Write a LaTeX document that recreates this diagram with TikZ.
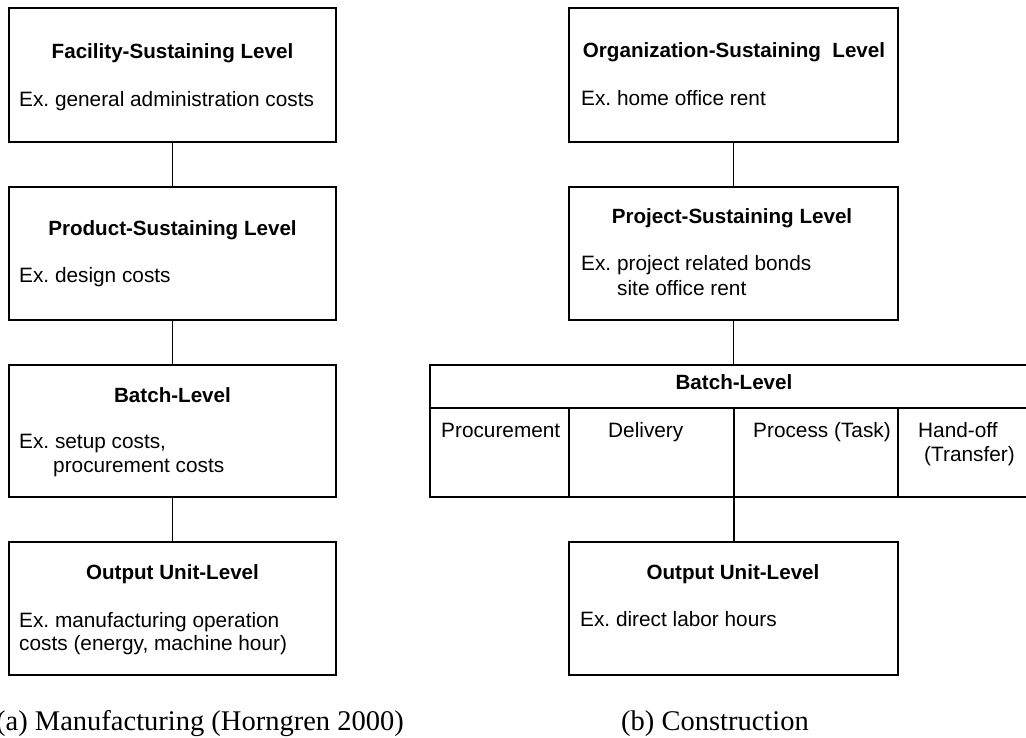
\documentclass[tikz,border=0pt]{standalone}
\usepackage{fontspec}
\setmainfont{Liberation Sans}
\newfontfamily\capfont{Liberation Serif}
\frenchspacing
\begin{document}
\begin{tikzpicture}[x=1pt,y=-1pt,
  box/.style={draw, line width=1.5pt, rectangle, inner sep=0pt, outer sep=0pt},
  conn/.style={line width=1.5pt},
  ttl/.style={font=\fontsize{20.6}{24}\selectfont\bfseries, anchor=base, inner sep=0pt},
  txt/.style={font=\fontsize{20.8}{24}\selectfont, anchor=base west, inner sep=0pt},
  captext/.style={font=\capfont\fontsize{28.5}{32}\selectfont, anchor=base, inner sep=0pt}]
\useasboundingbox (0,0) rectangle (1026,738);

% ---------- (a) Manufacturing ----------
\node[box, minimum width=327pt, minimum height=134pt] (a1) at (172.5,75) {};
\node[box, minimum width=327pt, minimum height=133pt] (a2) at (172.5,253.5) {};
\node[box, minimum width=327pt, minimum height=132pt] (a3) at (172.5,431) {};
\node[box, minimum width=327pt, minimum height=133pt] (a4) at (172.5,608.5) {};
\draw[conn] (a1) -- (a2);
\draw[conn] (a2) -- (a3);
\draw[conn] (a3) -- (a4);

\node[ttl] (a1t) at (172.5,59) {Facility-Sustaining Level};
\node[txt] (a1e) at (19,107) {Ex. general administration costs};
\node[ttl] (a2t) at (172.5,236) {Product-Sustaining Level};
\node[txt] (a2e) at (19,283) {Ex. design costs};
\node[ttl] (a3t) at (172.5,402) {Batch-Level};
\node[txt] (a3e) at (19,448) {Ex. setup costs,};
\node[txt] (a3f) at (53,472) {procurement costs};
\node[ttl] (a4t) at (172.5,579) {Output Unit-Level};
\node[txt] (a4e) at (19,627) {Ex. manufacturing operation};
\node[txt] (a4f) at (19,650) {costs (energy, machine hour)};

\node[captext] (capa) at (200,730) {(a) Manufacturing (Horngren 2000)};

% ---------- (b) Construction ----------
\node[box, minimum width=329pt, minimum height=134pt] (b1) at (733.5,75) {};
\node[box, minimum width=329pt, minimum height=133pt] (b2) at (733.5,253.5) {};
\node[box, minimum width=600pt, minimum height=43pt] (bh) at (730,386.5) {};
\node[box, minimum width=139pt, minimum height=89pt] (c1) at (499.5,452.5) {};
\node[box, minimum width=165pt, minimum height=89pt] (c2) at (651.5,452.5) {};
\node[box, minimum width=164pt, minimum height=89pt] (c3) at (816,452.5) {};
\node[box, minimum width=132pt, minimum height=89pt] (c4) at (964,452.5) {};
\node[box, minimum width=329pt, minimum height=133pt] (b4) at (733.5,608.5) {};
\draw[conn] (b1) -- (b2);
\draw[conn] (b2.south) -- (b2.south |- bh.north);
\draw[conn] (c3.south west) -- (c3.south west |- b4.north);

\node[ttl] (b1t) at (734,58) {Organization-Sustaining\ \ Level};
\node[txt] (b1e) at (581,106) {Ex. home office rent};
\node[ttl] (b2t) at (732,224) {Project-Sustaining Level};
\node[txt] (b2e) at (581,271) {Ex. project related bonds};
\node[txt] (b2f) at (617,295) {site office rent};
\node[ttl] (bht) at (734,389) {Batch-Level};
\node[txt] (c1t) at (441,437) {Procurement};
\node[txt] (c2t) at (608,437) {Delivery};
\node[txt] (c3t) at (753,437) {Process (Task)};
\node[txt] (c4t) at (918,437) {Hand-off};
\node[txt] (c4u) at (924,461) {(Transfer)};
\node[ttl] (b4t) at (733,579) {Output Unit-Level};
\node[txt] (b4e) at (580,626) {Ex. direct labor hours};

\node[captext] (capb) at (715,730) {(b) Construction};
\end{tikzpicture}
\end{document}
